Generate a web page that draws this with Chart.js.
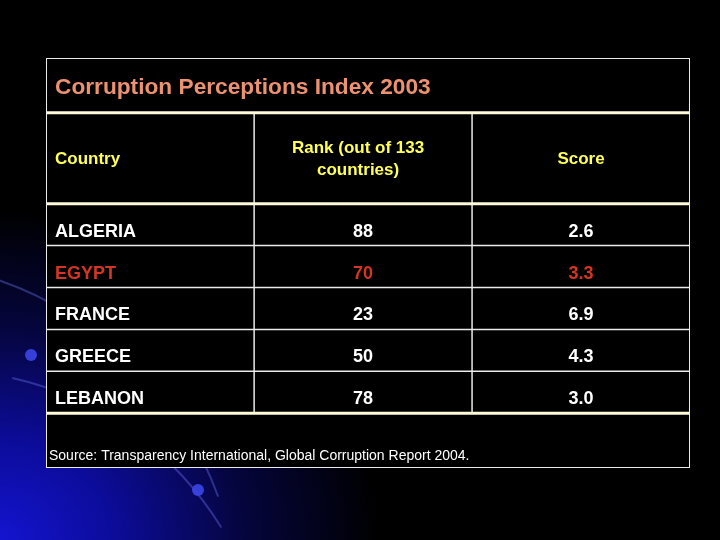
<!DOCTYPE html>
<html>
<head>
<meta charset="utf-8">
<script src="https://cdn.jsdelivr.net/npm/chart.js@4"></script>
<style>
    html, body { margin: 0; padding: 0; background: #000; }
    #wrap {
        width: 720px; height: 540px;
        background:
            radial-gradient(ellipse 380px 330px at 0% 100%, #1414d0 0%, #0c0c9a 30%, #05053c 65%, rgba(0,0,0,0) 100%),
            #000;
    }
</style>
</head>
<body>
<div id="wrap"><canvas id="table" width="720" height="540"></canvas></div>
<script>
// data
const title = "Corruption Perceptions Index 2003";
const headers = ["Country", "Rank (out of 133\ncountries)", "Score"];
const countries = ["ALGERIA", "EGYPT", "FRANCE", "GREECE", "LEBANON"];
const ranks = [88, 70, 23, 50, 78];
const scores = [2.6, 3.3, 6.9, 4.3, 3.0];
const highlight = "EGYPT";
const source = "Source: Transparency International, Global Corruption Report 2004.";

// layout in table units (columns / row heights)
const colEdges = [0, 0.955, 1.955, 2.955];
const titleRow = [0, 1.31];
const headRow = [1.31, 3.48];
const footRow = [8.48, 9.79];

const FONT = "'Liberation Sans', Arial, sans-serif";
const colors = {
    title: "rgb(236, 146, 112)",
    head: "rgb(255, 255, 90)",
    cell: "#ffffff",
    highlight: "rgb(214, 52, 36)",
    thick: "rgb(255, 250, 215)",
    thin: "rgb(235, 235, 235)"
};

// cell centres as points, so every cell comes through the scales
const cells = [];
countries.forEach((c, i) => {
    const y = headRow[1] + i + 0.5;
    cells.push({x: colEdges[0], y: y, text: c, align: "left", row: i});
    cells.push({x: (colEdges[1] + colEdges[2]) / 2, y: y, text: String(ranks[i]), align: "center", row: i});
    cells.push({x: (colEdges[2] + colEdges[3]) / 2, y: y, text: scores[i].toFixed(1), align: "center", row: i});
});

const backdrop = {
    id: "backdrop",
    beforeDraw(chart) {
        const ctx = chart.ctx;
        ctx.save();
        // faint arcs of the slide template
        ctx.strokeStyle = "rgba(120, 130, 255, 0.35)";
        ctx.lineWidth = 2;
        ctx.beginPath();
        ctx.arc(-120, 620, 360, -1.25, -0.35);
        ctx.stroke();
        ctx.beginPath();
        ctx.arc(-60, 700, 330, -1.35, -0.55);
        ctx.stroke();
        ctx.fillStyle = "rgba(60, 70, 230, 0.9)";
        ctx.beginPath(); ctx.arc(31, 355, 6, 0, Math.PI * 2); ctx.fill();
        ctx.beginPath(); ctx.arc(198, 490, 6, 0, Math.PI * 2); ctx.fill();
        // table body
        const a = chart.chartArea;
        ctx.fillStyle = "#000";
        ctx.fillRect(a.left, a.top, a.right - a.left, a.bottom - a.top);
        ctx.restore();
    }
};

const table = {
    id: "table",
    afterDatasetsDraw(chart) {
        const ctx = chart.ctx, x = chart.scales.x, y = chart.scales.y;
        const a = chart.chartArea;
        const px = v => x.getPixelForValue(v), py = v => y.getPixelForValue(v);
        ctx.save();

        function hline(v, w, c) {
            ctx.strokeStyle = c; ctx.lineWidth = w;
            ctx.beginPath(); ctx.moveTo(a.left, py(v)); ctx.lineTo(a.right, py(v)); ctx.stroke();
        }
        function vline(v, y0, y1) {
            ctx.strokeStyle = colors.thin; ctx.lineWidth = 1.5;
            ctx.beginPath(); ctx.moveTo(px(v), py(y0)); ctx.lineTo(px(v), py(y1)); ctx.stroke();
        }

        // grid
        for (let i = 1; i < countries.length; i++) hline(headRow[1] + i, 1.5, colors.thin);
        vline(colEdges[1], headRow[0], footRow[0]);
        vline(colEdges[2], headRow[0], footRow[0]);
        hline(titleRow[1], 3, colors.thick);
        hline(headRow[1], 3, colors.thick);
        hline(footRow[0], 3, colors.thick);
        ctx.strokeStyle = colors.thin; ctx.lineWidth = 1;
        ctx.strokeRect(a.left + 0.5, a.top + 0.5, a.right - a.left - 1, a.bottom - a.top - 1);

        // title
        ctx.textBaseline = "middle";
        ctx.textAlign = "left";
        ctx.fillStyle = colors.title;
        ctx.font = "bold 22.7px " + FONT;
        ctx.fillText(title, px(colEdges[0]) + 9, py((titleRow[0] + titleRow[1]) / 2) + 2);

        // header
        ctx.fillStyle = colors.head;
        ctx.font = "bold 17px " + FONT;
        const hy = py((headRow[0] + headRow[1]) / 2) + 1;
        headers.forEach((h, i) => {
            const lines = h.split("\n");
            ctx.textAlign = i === 0 ? "left" : "center";
            const cx = i === 0 ? px(colEdges[0]) + 9 : px((colEdges[i] + colEdges[i + 1]) / 2) - (lines.length > 1 ? 5 : 0);
            lines.forEach((l, k) => ctx.fillText(l, cx, hy + (k - (lines.length - 1) / 2) * 22));
        });

        // cells
        ctx.font = "bold 18px " + FONT;
        for (const c of cells) {
            ctx.fillStyle = countries[c.row] === highlight ? colors.highlight : colors.cell;
            ctx.textAlign = c.align;
            const cx = c.align === "left" ? px(c.x) + 9 : px(c.x);
            ctx.fillText(c.text, cx, py(c.y) + 7);
        }

        // source
        ctx.fillStyle = "#ffffff";
        ctx.textAlign = "left";
        ctx.font = "14px " + FONT;
        ctx.fillText(source, px(colEdges[0]) + 3, py(footRow[1]) - 12);

        ctx.restore();
    }
};

new Chart(document.getElementById("table").getContext("2d"), {
    type: "scatter",
    data: {
        datasets: [{
            data: cells.map(c => ({x: c.x, y: c.y})),
            pointRadius: 0
        }]
    },
    options: {
        responsive: false,
        animation: false,
        layout: {padding: {left: 46, right: 30, top: 58, bottom: 72}},
        scales: {
            x: {type: "linear", min: colEdges[0], max: colEdges[3], display: false},
            y: {type: "linear", min: titleRow[0], max: footRow[1], reverse: true, display: false}
        },
        plugins: {legend: {display: false}, tooltip: {enabled: false}}
    },
    plugins: [backdrop, table]
});
</script>
</body>
</html>
